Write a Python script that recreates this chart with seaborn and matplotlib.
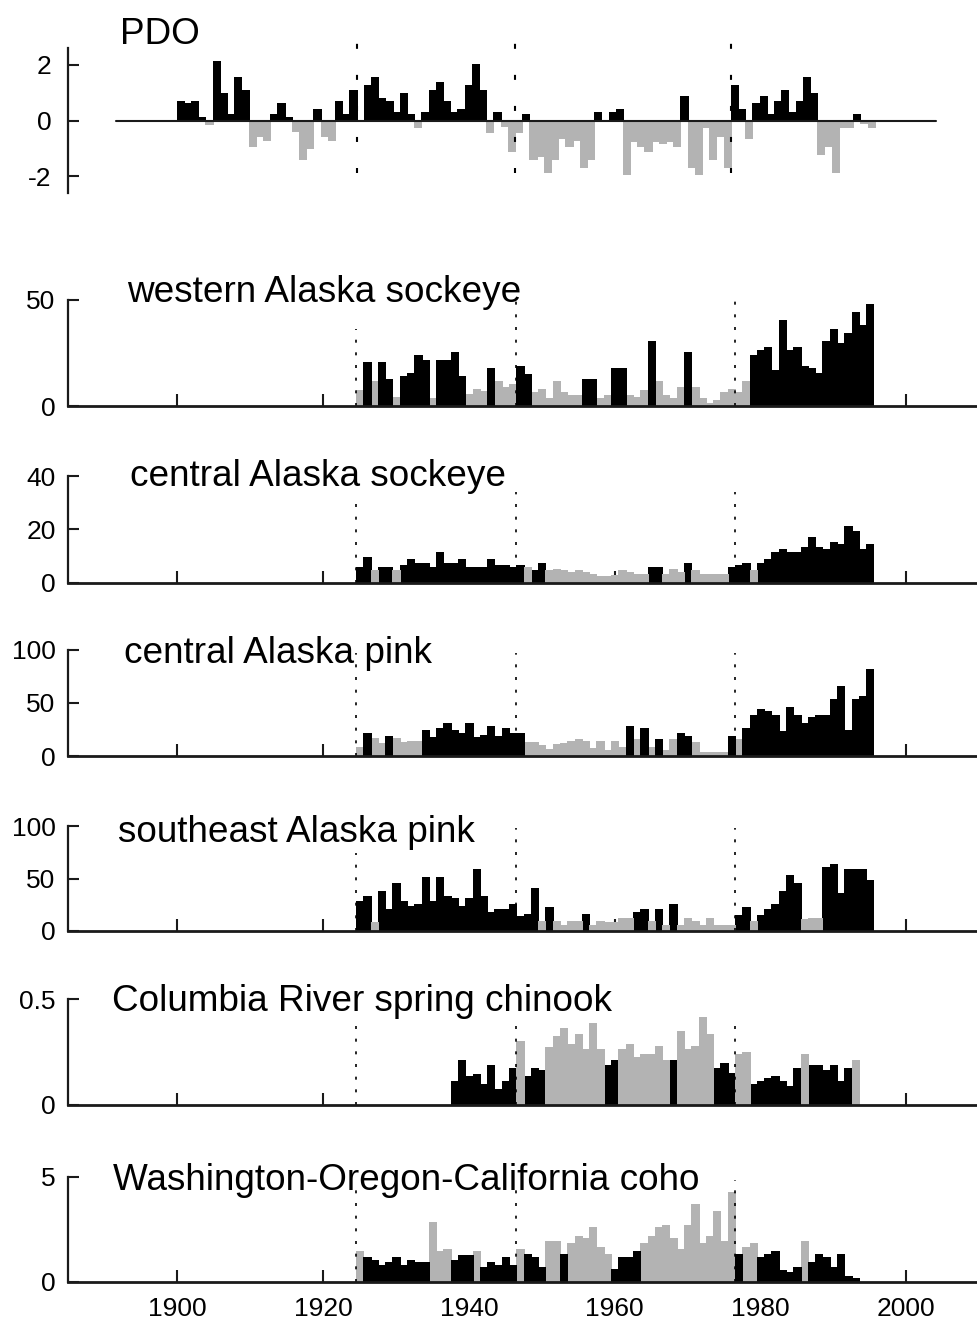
import matplotlib
matplotlib.use("Agg")
import matplotlib.pyplot as plt
import pandas as pd
import seaborn as sns

# ---------------------------------------------------------------- data
PDO_START = 1900
PDO_INDEX = [
    0.70, 0.62, 0.70, 0.12, -0.14, 2.14, 1.00, 0.24, 1.57, 1.10,
    -0.90, -0.55, -0.69, 0.24, 0.62, 0.12, -0.39, -1.37, -0.99, 0.42,
    -0.57, -0.69, 0.70, 0.24, 1.10, 0.00, 1.27, 1.55, 0.80, 0.70,
    0.32, 1.00, 0.24, -0.24, 0.32, 1.10, 1.37, 0.70, 0.32, 0.42,
    1.27, 2.02, 1.10, -0.43, 0.32, -0.21, -1.08, -0.43, 0.24, -1.37,
    -1.29, -1.85, -1.37, -0.63, -0.90, -0.69, -1.67, -1.37, 0.32, 0.00,
    0.32, 0.42, -1.94, -0.73, -0.90, -1.08, -0.73, -0.81, -0.73, -0.90,
    0.89, -1.67, -1.94, -0.24, -1.37, -0.54, -1.67, 1.27, 0.42, -0.63,
    0.62, 0.89, 0.24, 0.70, 1.10, 0.32, 0.70, 1.55, 1.00, -1.19,
    -0.90, -1.85, -0.24, -0.24, 0.24, -0.10, -0.24,
]

SHIFT_YEARS = [1925, 1947, 1977]

# catch series: first year, values, and a 1/0 string marking dark-shaded years
WAK_SOCKEYE_START = 1925
WAK_SOCKEYE = [
    7.7, 20.8, 11.8, 20.8, 12.9, 4.3, 14.0, 15.6, 24.2, 21.9,
    3.9, 21.9, 21.9, 25.5, 14.0, 5.8, 7.9, 6.9, 17.9, 11.8,
    8.9, 10.2, 19.1, 15.3, 6.6, 7.9, 3.9, 11.8, 6.6, 5.3,
    5.3, 12.9, 12.9, 3.9, 5.3, 17.9, 17.9, 5.3, 4.3, 7.7,
    30.7, 11.8, 5.3, 3.9, 8.9, 25.5, 8.9, 3.9, 1.5, 2.7,
    6.6, 7.9, 6.6, 11.8, 24.2, 26.5, 27.8, 16.8, 40.4, 26.5,
    27.8, 19.1, 17.9, 15.6, 30.5, 36.5, 29.5, 34.4, 44.3, 38.1,
    48.0,
]
WAK_SOCKEYE_DARK = ("0101101111" "0111100010" "0011000000" "0110011000"
                    "1000010000" "0000111111" "1111111111" "1")

CAK_SOCKEYE_START = 1925
CAK_SOCKEYE = [
    5.7, 9.7, 4.7, 5.7, 5.7, 4.7, 6.6, 8.7, 7.2, 7.5,
    5.7, 11.6, 7.5, 7.5, 8.7, 5.7, 5.7, 5.7, 8.7, 6.6,
    6.6, 5.7, 6.6, 5.7, 4.7, 7.5, 4.7, 5.3, 4.7, 4.1,
    4.7, 4.1, 3.4, 2.4, 2.4, 3.0, 4.7, 4.1, 3.4, 3.4,
    5.7, 5.7, 3.4, 5.3, 4.1, 7.5, 4.7, 3.4, 3.4, 3.4,
    3.4, 5.7, 6.6, 7.5, 4.7, 7.5, 8.7, 11.6, 12.5, 11.6,
    11.6, 13.5, 17.3, 13.5, 12.5, 15.4, 14.5, 21.3, 19.2, 12.5,
    14.5,
]
CAK_SOCKEYE_DARK = ("1101101111" "1111111111" "1110110000" "0000000000"
                    "1100010000" "0111011111" "1111111111" "1")

CAK_PINK_START = 1925
CAK_PINK = [
    8.8, 21.4, 16.7, 12.0, 18.9, 16.7, 13.5, 14.5, 14.5, 24.5,
    18.2, 26.1, 31.4, 24.5, 21.4, 31.4, 18.2, 19.8, 28.3, 18.9,
    26.1, 21.4, 21.4, 13.5, 13.5, 10.4, 6.3, 11.0, 12.0, 14.5,
    15.7, 14.5, 7.2, 14.5, 5.7, 14.5, 8.2, 28.3, 15.7, 26.1,
    8.2, 15.7, 5.7, 15.7, 21.4, 18.9, 13.5, 4.1, 4.1, 4.1,
    4.1, 18.9, 15.7, 26.1, 38.7, 44.0, 42.5, 38.7, 23.9, 46.5,
    38.7, 31.4, 36.5, 38.7, 38.7, 53.5, 66.4, 24.5, 53.5, 56.6,
    81.8,
]
CAK_PINK_DARK = ("0100100001" "1111111111" "1110000000" "0000000101"
                 "0100110000" "0101111111" "1111111111" "1")

SEAK_PINK_START = 1925
SEAK_PINK = [
    28.6, 33.7, 8.3, 38.1, 21.0, 46.0, 28.6, 24.1, 25.4, 51.7,
    28.6, 51.7, 33.7, 31.1, 24.1, 31.1, 59.0, 33.7, 18.4, 21.0,
    21.0, 25.4, 14.0, 16.2, 41.3, 9.5, 23.2, 9.5, 5.7, 9.5,
    9.5, 16.2, 5.7, 9.5, 8.3, 8.9, 12.7, 12.7, 18.4, 20.6,
    9.5, 20.6, 5.7, 25.4, 5.7, 12.7, 9.5, 5.7, 12.7, 5.7,
    5.7, 5.7, 15.2, 23.2, 9.5, 15.2, 20.6, 25.4, 38.1, 53.3,
    46.0, 11.4, 12.7, 12.7, 61.3, 63.5, 35.9, 59.0, 59.0, 59.0,
    48.6,
]
SEAK_PINK_DARK = ("1101111111" "1111111111" "1111101000" "0100000011"
                  "0101000000" "0011011111" "1000111111" "1")

CR_CHINOOK_START = 1938
CR_CHINOOK = [
    0.113, 0.212, 0.137, 0.148, 0.097, 0.187, 0.074, 0.113, 0.176, 0.302,
    0.137, 0.176, 0.164, 0.274, 0.325, 0.362, 0.289, 0.336, 0.263, 0.388,
    0.263, 0.189, 0.212, 0.263, 0.289, 0.226, 0.239, 0.239, 0.278, 0.215,
    0.212, 0.352, 0.263, 0.278, 0.415, 0.336, 0.176, 0.200, 0.153, 0.239,
    0.250, 0.097, 0.113, 0.126, 0.137, 0.113, 0.090, 0.176, 0.239, 0.189,
    0.189, 0.164, 0.189, 0.113, 0.176, 0.212,
]
CR_CHINOOK_DARK = ("1111111110" "1110000000" "0110000000" "1000001110"
                   "0111111101" "111110")

WOC_COHO_START = 1925
WOC_COHO = [
    1.44, 1.19, 1.05, 0.81, 0.92, 1.16, 0.81, 1.05, 0.92, 0.92,
    2.83, 1.44, 1.56, 1.05, 1.29, 1.29, 1.44, 0.68, 0.92, 0.81,
    1.19, 0.81, 1.56, 1.32, 1.16, 0.68, 1.92, 1.92, 1.32, 1.83,
    2.19, 2.08, 2.59, 1.67, 1.32, 0.60, 1.19, 1.19, 1.44, 1.83,
    2.19, 2.59, 2.70, 2.08, 1.56, 2.70, 3.70, 1.83, 2.19, 3.35,
    1.95, 4.25, 1.32, 1.67, 1.83, 1.19, 1.32, 1.44, 0.56, 0.44,
    0.68, 1.92, 0.92, 1.32, 1.16, 0.68, 1.32, 0.29, 0.17,
]
WOC_COHO_DARK = ("0111111111" "0001110111" "1101110010" "0000011110"
                 "0000000000" "0010011111" "101111111")

TITLES = ["western Alaska sockeye", "central Alaska sockeye",
          "central Alaska pink", "southeast Alaska pink",
          "Columbia River spring chinook",
          "Washington-Oregon-California coho"]
Y_TICKS = [[0, 50], [0, 20, 40], [0, 50, 100], [0, 50, 100],
           [0, 0.5], [0, 5]]
Y_TICK_LABELS = [["0", "50"], ["0", "20", "40"], ["0", "50", "100"],
                 ["0", "50", "100"], ["0", "0.5"], ["0", "5"]]
X_TICKS = [1900, 1920, 1940, 1960, 1980, 2000]

# ---------------------------------------------------------------- style
GRAY = "#b3b3b3"
INK = "#1a1a1a"
sns.set_theme(style="white")
plt.rcParams["font.family"] = ["Liberation Sans", "DejaVu Sans"]
plt.rcParams["axes.unicode_minus"] = False
for key in ["text.color", "axes.labelcolor", "xtick.color", "ytick.color"]:
    plt.rcParams[key] = "black"

W, H = 977, 1323
fig = plt.figure(figsize=(W / 100, H / 100), dpi=100)


def axes_px(top, bottom, left=68, right=977):
    return fig.add_axes([left / W, 1 - bottom / H,
                         (right - left) / W, (bottom - top) / H])


def crisp_bars(ax):
    # solid fills so neighbouring years merge without hairline seams
    for p in ax.patches:
        p.set_edgecolor(p.get_facecolor())
        p.set_linewidth(0.5)
        p.set_antialiased(False)


# ---------------------------------------------------------------- PDO
ax = axes_px(48, 193)
pdo = pd.DataFrame({"year": range(PDO_START, PDO_START + len(PDO_INDEX)),
                    "value": PDO_INDEX})
pdo["phase"] = ["warm" if v >= 0 else "cool" for v in pdo["value"]]
sns.barplot(data=pdo, x="year", y="value", hue="phase",
            palette={"warm": "black", "cool": GRAY}, native_scale=True,
            width=1, dodge=False, errorbar=None, legend=False,
            saturation=1, linewidth=0, ax=ax)
crisp_bars(ax)
ax.plot([1891, 2005], [0, 0], color=INK, lw=1.5, zorder=4)
for yr in SHIFT_YEARS:
    ax.plot([yr - 0.5, yr - 0.5], [-1.9, 2.9], color="black", lw=1.5,
            ls=(0, (2.4, 12.5)), zorder=6, clip_on=False)
ax.set_xlim(1884.4, 2010.7)
ax.set_ylim(-2.61, 2.61)
ax.set(xlabel="", ylabel="")
for s in ["top", "right", "bottom"]:
    ax.spines[s].set_visible(False)
ax.spines["left"].set_color(INK)
ax.spines["left"].set_linewidth(1.6)
ax.set_yticks([2, 0, -2])
ax.set_yticklabels(["2", "0", "-2"])
ax.set_xticks([])
ax.tick_params(axis="y", direction="in", length=8, width=1.5, color=INK,
               pad=12, labelsize=19, left=True, labelcolor="black")
ax.patch.set_alpha(0)
fig.text(120 / W, 1 - 44 / H, "PDO", fontsize=26.6, ha="left",
         va="baseline", color="black")

# ---------------------------------------------------------------- catches
series = [
    (WAK_SOCKEYE_START, WAK_SOCKEYE, WAK_SOCKEYE_DARK),
    (CAK_SOCKEYE_START, CAK_SOCKEYE, CAK_SOCKEYE_DARK),
    (CAK_PINK_START, CAK_PINK, CAK_PINK_DARK),
    (SEAK_PINK_START, SEAK_PINK, SEAK_PINK_DARK),
    (CR_CHINOOK_START, CR_CHINOOK, CR_CHINOOK_DARK),
    (WOC_COHO_START, WOC_COHO, WOC_COHO_DARK),
]
panel_px = [(300, 406), (476, 582.7), (650, 756), (826, 931),
            (999.3, 1105), (1176.7, 1281.7)]
title_px = [(127, 302), (130, 486), (124, 663), (118, 842), (112, 1011),
            (113, 1190)]
shift_tops = [[36.3, 50, 50], [29.8, 34, 34], [97, 97, 97],
              [74, 97.8, 97.8], [0.418, 0.418, 0.418], [4.37, 4.37, 4.84]]

for i, (start, vals, dark) in enumerate(series):
    ax = axes_px(*panel_px[i])
    df = pd.DataFrame({"year": range(start, start + len(vals)),
                       "catch": vals,
                       "shade": ["dark" if c == "1" else "light"
                                 for c in dark]})
    sns.barplot(data=df, x="year", y="catch", hue="shade",
                palette={"dark": "black", "light": GRAY}, native_scale=True,
                width=1, dodge=False, errorbar=None, legend=False,
                saturation=1, linewidth=0, ax=ax)
    crisp_bars(ax)
    for yr, top in zip(SHIFT_YEARS, shift_tops[i]):
        ax.plot([yr - 0.5, yr - 0.5], [0, top], color="black", lw=1.2,
                ls=(0, (1.8, 5.8)), zorder=6, clip_on=False)
    ax.set_xlim(1885, 2009.7)
    ax.set_ylim(0, Y_TICKS[i][-1])
    ax.set(xlabel="", ylabel="")
    for s in ["top", "right"]:
        ax.spines[s].set_visible(False)
    ax.spines["left"].set_color(INK)
    ax.spines["left"].set_linewidth(1.6)
    ax.spines["bottom"].set_color(INK)
    ax.spines["bottom"].set_linewidth(2.0)
    ax.spines["bottom"].set_zorder(7)
    ax.set_yticks(Y_TICKS[i])
    ax.set_yticklabels(Y_TICK_LABELS[i])
    ax.set_xticks(X_TICKS)
    ax.tick_params(axis="y", direction="in", length=8, width=1.5,
                   color=INK, pad=9, labelsize=19, left=True,
                   labelcolor="black")
    ax.tick_params(axis="x", direction="in", length=9, width=1.5,
                   color=INK, pad=11, labelsize=19, bottom=True,
                   labelcolor="black",
                   labelbottom=(i == len(series) - 1))
    if i == len(series) - 1:
        ax.set_xticklabels([str(t) for t in X_TICKS])
    ax.patch.set_alpha(0)
    tx, ty = title_px[i]
    fig.text(tx / W, 1 - ty / H, TITLES[i], fontsize=26.6, ha="left",
             va="baseline", color="black")

fig.savefig("out.png", dpi=100)
